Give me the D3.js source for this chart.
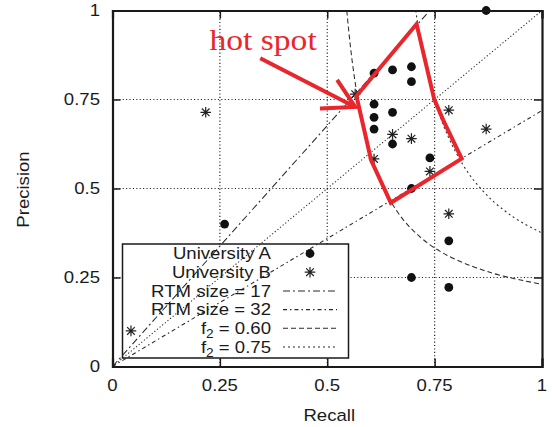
<!DOCTYPE html>
<html><head><meta charset="utf-8">
<script src="https://cdn.jsdelivr.net/npm/d3@7/dist/d3.min.js"></script>
<style>body{margin:0;background:#fff}svg{display:block}</style>
</head><body>
<svg id="c" width="552" height="427"></svg>
<script>
// ---------- data ----------
const tickValues = [0, 0.25, 0.5, 0.75, 1];
const tickLabels = ["0", "0.25", "0.5", "0.75", "1"];

const uniARecall    = [0.870, 0.609, 0.652, 0.696, 0.696, 0.609, 0.609, 0.652, 0.609, 0.652, 0.739, 0.696, 0.261, 0.783, 0.696, 0.783];
const uniAPrecision = [1.000, 0.824, 0.833, 0.842, 0.800, 0.737, 0.700, 0.714, 0.667, 0.625, 0.586, 0.500, 0.400, 0.353, 0.250, 0.222];

const uniBRecall    = [0.565, 0.783, 0.870, 0.652, 0.696, 0.609, 0.739, 0.783, 0.217, 0.043];
const uniBPrecision = [0.765, 0.720, 0.667, 0.652, 0.640, 0.583, 0.548, 0.429, 0.714, 0.100];

// reference lines (recall, precision)
const rtm17 = [[0, 0], [0.739, 1.0]];
const rtm32 = [[0, 0], [1.0, 0.719]];
const diagonal = [[0, 0], [1.0, 1.0]];
const f2_060_recall    = [0.5455, 0.55, 0.56, 0.57, 0.58, 0.60, 0.625, 0.65, 0.70, 0.75, 0.80, 0.85, 0.90, 0.95, 1.00];
const f2_060_precision = [1.000, 0.943, 0.840, 0.760, 0.696, 0.600, 0.517, 0.459, 0.382, 0.333, 0.300, 0.276, 0.257, 0.243, 0.231];
const f2_075_recall    = [0.7059, 0.71, 0.72, 0.73, 0.75, 0.775, 0.80, 0.85, 0.90, 0.95, 1.00];
const f2_075_precision = [1.000, 0.968, 0.900, 0.842, 0.750, 0.664, 0.600, 0.510, 0.450, 0.407, 0.375];

// hot spot annotation (recall, precision)
const hotSpotPolygon = [[0.568, 0.760], [0.708, 0.962], [0.749, 0.751], [0.770, 0.692], [0.813, 0.584], [0.648, 0.460], [0.602, 0.580]];
const arrowShaft = [[0.344, 0.866], [0.565, 0.729]];
const arrowHead = [[0.523, 0.805], [0.565, 0.729], [0.483, 0.725]];
const hotSpotLabel = {text: "hot spot", at: [0.226, 0.890]};

const legendItems = [
  {label: "University A", type: "circle"},
  {label: "University B", type: "star"},
  {label: "RTM size = 17", type: "line", dash: "7,3,2,3"},
  {label: "RTM size = 32", type: "line", dash: "4,3,1.5,3"},
  {label: "f|2| = 0.60", type: "line", dash: "5,3"},
  {label: "f|2| = 0.75", type: "line", dash: "2,3"}
];

// ---------- drawing ----------
const svg = d3.select("#c");
const X = d3.scaleLinear().domain([0, 1]).range([112.5, 542]);
const Y = d3.scaleLinear().domain([0, 1]).range([366.5, 10.5]);
const SX = 1.14; // horizontal stretch of the sans text
const sans = "'Liberation Sans', Arial, Helvetica, sans-serif";
const ink = "#1a1a1a";

function sText(g, x, y, str, anchor, size) {
  return g.append("text")
    .attr("transform", `translate(${x},${y}) scale(${SX},1)`)
    .attr("text-anchor", anchor)
    .attr("font-family", sans)
    .attr("font-size", size || 16.3)
    .attr("fill", ink)
    .text(str);
}

svg.append("defs").append("clipPath").attr("id", "plot")
  .append("rect").attr("x", X(0)).attr("y", Y(1)).attr("width", X(1) - X(0)).attr("height", Y(0) - Y(1));

// grid
const grid = svg.append("g");
[0.25, 0.5, 0.75].forEach(v => {
  grid.append("line").attr("x1", X(v)).attr("x2", X(v)).attr("y1", Y(0)).attr("y2", Y(1));
  grid.append("line").attr("x1", X(0)).attr("x2", X(1)).attr("y1", Y(v)).attr("y2", Y(v));
});
grid.selectAll("line").attr("stroke", "#222").attr("stroke-width", 1.2).attr("stroke-dasharray", "1.1,2.3");

// legend box (covers grid)
const lg = {x: 122.5, y: 244, w: 226, h: 114, row: 18.7, textRight: 271, symX: 310, l1: 283, l2: 337};
svg.append("rect").attr("x", lg.x).attr("y", lg.y).attr("width", lg.w).attr("height", lg.h)
  .attr("fill", "#fff").attr("stroke", ink).attr("stroke-width", 1.5);

// reference lines
const line = d3.line().x(d => X(d[0])).y(d => Y(d[1]));
const curve = d3.line().x(d => X(d[0])).y(d => Y(d[1])).curve(d3.curveMonotoneY);
const lines = svg.append("g").attr("clip-path", "url(#plot)").attr("fill", "none").attr("stroke", "#2a2a2a").attr("stroke-width", 1.05);
lines.append("path").attr("d", line(rtm17)).attr("stroke-dasharray", "7,3,2,3");
lines.append("path").attr("d", line(rtm32)).attr("stroke-dasharray", "4,3,1.5,3");
lines.append("path").attr("d", line(diagonal)).attr("stroke-dasharray", "1.2,2.2");
lines.append("path").attr("d", curve(f2_060_recall.map((r, i) => [r, f2_060_precision[i]]))).attr("stroke-dasharray", "5,3");
lines.append("path").attr("d", curve(f2_075_recall.map((r, i) => [r, f2_075_precision[i]]))).attr("stroke-dasharray", "2,3");

// points
const starPath = s => `M${-s},0H${s}M0,${-s}V${s}M${-s*0.72},${-s*0.72}L${s*0.72},${s*0.72}M${-s*0.72},${s*0.72}L${s*0.72},${-s*0.72}`;
svg.append("g").selectAll("circle").data(uniARecall.map((r, i) => [r, uniAPrecision[i]])).join("circle")
  .attr("cx", d => X(d[0])).attr("cy", d => Y(d[1])).attr("r", 4.4).attr("fill", "#111");
svg.append("g").selectAll("path").data(uniBRecall.map((r, i) => [r, uniBPrecision[i]])).join("path")
  .attr("transform", d => `translate(${X(d[0])},${Y(d[1])})`).attr("d", starPath(5.3))
  .attr("stroke", "#222").attr("stroke-width", 1.2).attr("fill", "none");

// hot spot annotation
const red = "#e8262b";
const ann = svg.append("g").attr("fill", "none").attr("stroke", red).attr("stroke-width", 4)
  .attr("stroke-linejoin", "miter").attr("stroke-linecap", "butt");
ann.append("path").attr("d", line(hotSpotPolygon) + "Z");
ann.append("path").attr("d", line(arrowShaft));
ann.append("path").attr("d", line(arrowHead));
svg.append("text")
  .attr("transform", `translate(${X(hotSpotLabel.at[0])},${Y(hotSpotLabel.at[1])}) scale(1.1,1)`)
  .attr("font-family", "'Liberation Serif', 'Times New Roman', serif").attr("font-size", 30.5)
  .attr("fill", red).text(hotSpotLabel.text);

// axes frame & ticks (inward, mirrored)
const ax = svg.append("g");
ax.append("g").attr("transform", `translate(0,${Y(0)})`).call(d3.axisBottom(X).tickValues(tickValues).tickSize(-8).tickFormat(""));
ax.append("g").attr("transform", `translate(0,${Y(1)})`).call(d3.axisTop(X).tickValues(tickValues).tickSize(-8).tickFormat(""));
ax.append("g").attr("transform", `translate(${X(0)},0)`).call(d3.axisLeft(Y).tickValues(tickValues).tickSize(-8).tickFormat(""));
ax.append("g").attr("transform", `translate(${X(1)},0)`).call(d3.axisRight(Y).tickValues(tickValues).tickSize(-8).tickFormat(""));
ax.selectAll(".domain").attr("stroke", ink).attr("stroke-width", 2.2);
ax.selectAll(".tick line").attr("stroke", ink).attr("stroke-width", 1.5);

// tick labels
tickValues.forEach((v, i) => {
  sText(svg, X(v), 391, tickLabels[i], "middle");
  sText(svg, 100, Y(v) + 5.8, tickLabels[i], "end");
});
sText(svg, (X(0) + X(1)) / 2 + 2, 421, "Recall", "middle");
svg.append("text")
  .attr("transform", `translate(29,${(Y(0) + Y(1)) / 2 + 1}) rotate(-90) scale(${SX},1)`)
  .attr("text-anchor", "middle").attr("font-family", sans).attr("font-size", 16.3).attr("fill", ink)
  .text("Precision");

// legend content
legendItems.forEach((it, i) => {
  const cy = lg.y + 9.5 + i * lg.row;
  const parts = it.label.split("|");
  const t = svg.append("text")
    .attr("transform", `translate(${lg.textRight},${cy + 5.8}) scale(${SX},1)`)
    .attr("text-anchor", "end").attr("font-family", sans).attr("font-size", 16.3).attr("fill", ink);
  if (parts.length === 1) t.text(it.label);
  else {
    t.append("tspan").text(parts[0]);
    t.append("tspan").attr("dy", 4).attr("font-size", 12).text(parts[1]);
    t.append("tspan").attr("dy", -4).text(parts[2]);
  }
  if (it.type === "circle") {
    svg.append("circle").attr("cx", lg.symX).attr("cy", cy).attr("r", 4.4).attr("fill", "#111");
  } else if (it.type === "star") {
    svg.append("path").attr("transform", `translate(${lg.symX},${cy})`).attr("d", starPath(5.3))
      .attr("stroke", "#222").attr("stroke-width", 1.2).attr("fill", "none");
  } else {
    svg.append("line").attr("x1", lg.l1).attr("x2", lg.l2).attr("y1", cy).attr("y2", cy)
      .attr("stroke", "#2a2a2a").attr("stroke-width", 1.05).attr("stroke-dasharray", it.dash);
  }
});
</script>
</body></html>
